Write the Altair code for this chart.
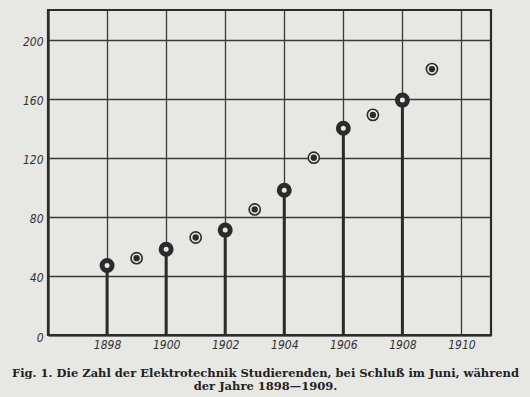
import altair as alt
import pandas as pd

years = [1898, 1899, 1900, 1901, 1902, 1903, 1904, 1905, 1906, 1907, 1908, 1909]
students = [47, 52, 58, 66, 71, 85, 98, 120, 140, 149, 159, 180]

x_grid = list(range(1896, 1912))
y_grid = list(range(0, 221, 20))

caption = [
    "Fig. 1.  Die Zahl der Elektrotechnik Studierenden, bei Schluß im Juni, während",
    "der Jahre 1898\u20141909.",
]

BG = "#e7e7e4"
INK = "#2b2b2b"

df = pd.DataFrame({"year": years, "n": students})

xs = alt.Scale(domain=[1896, 1911], nice=False, zero=False)
ys = alt.Scale(domain=[0, 220], nice=False)

xaxis = alt.Axis(
    values=x_grid, grid=True, gridColor="#3a3a3a", gridWidth=1.3, gridOpacity=1,
    domainColor=INK, domainWidth=2.2, ticks=False, labelPadding=4,
    labelExpr="datum.value % 2 == 0 && datum.value >= 1898 ? datum.value : ''",
    labelFont="Liberation Sans Narrow, DejaVu Sans Condensed, sans-serif",
    labelFontStyle="italic", labelFontSize=12, labelColor="#333333", title=None,
)
yaxis = alt.Axis(
    values=y_grid, grid=True, gridColor="#3a3a3a", gridWidth=1.3, gridOpacity=1,
    domainColor=INK, domainWidth=2.2, ticks=False, labelPadding=5, labelOffset=2,
    labelExpr="datum.value % 40 == 0 ? datum.value : ''",
    labelFont="Liberation Sans Narrow, DejaVu Sans Condensed, sans-serif",
    labelFontStyle="italic", labelFontSize=12, labelColor="#333333", title=None,
)

base = alt.Chart(df)

stems = base.transform_filter("datum.year % 2 == 0").mark_rule(
    color=INK, strokeWidth=3
).encode(
    x=alt.X("year:Q", scale=xs, axis=xaxis),
    y=alt.Y("n:Q", scale=ys, axis=yaxis),
    y2=alt.datum(0),
)

rings = base.transform_filter("datum.year % 2 == 0").mark_point(
    shape="circle", filled=False, fill=BG, fillOpacity=1, stroke=INK,
    strokeWidth=5, size=100, opacity=1
).encode(x=alt.X("year:Q", scale=xs), y=alt.Y("n:Q", scale=ys))

bulls_outer = base.transform_filter("datum.year % 2 == 1").mark_point(
    shape="circle", filled=False, fill=BG, fillOpacity=1, stroke=INK,
    strokeWidth=1.6, size=125, opacity=1
).encode(x=alt.X("year:Q", scale=xs), y=alt.Y("n:Q", scale=ys))

bulls_inner = base.transform_filter("datum.year % 2 == 1").mark_point(
    shape="circle", filled=True, color=INK, size=40, opacity=1
).encode(x=alt.X("year:Q", scale=xs), y=alt.Y("n:Q", scale=ys))

chart = alt.layer(stems, rings, bulls_outer, bulls_inner).properties(
    width=443,
    height=325,
    autosize=alt.AutoSizeParams(type="none"),
    padding={"left": 48, "top": 10, "right": 39, "bottom": 62},
    background=BG,
    title=alt.TitleParams(
        text=caption, orient="bottom", anchor="middle", dx=-4, offset=18,
        font="DejaVu Serif", fontWeight="bold", fontSize=11.5,
        lineHeight=13, color="#222222",
    ),
).configure_view(stroke=INK, strokeWidth=2.2)

chart.save("out.html", embed_options={"renderer": "svg", "actions": False})
